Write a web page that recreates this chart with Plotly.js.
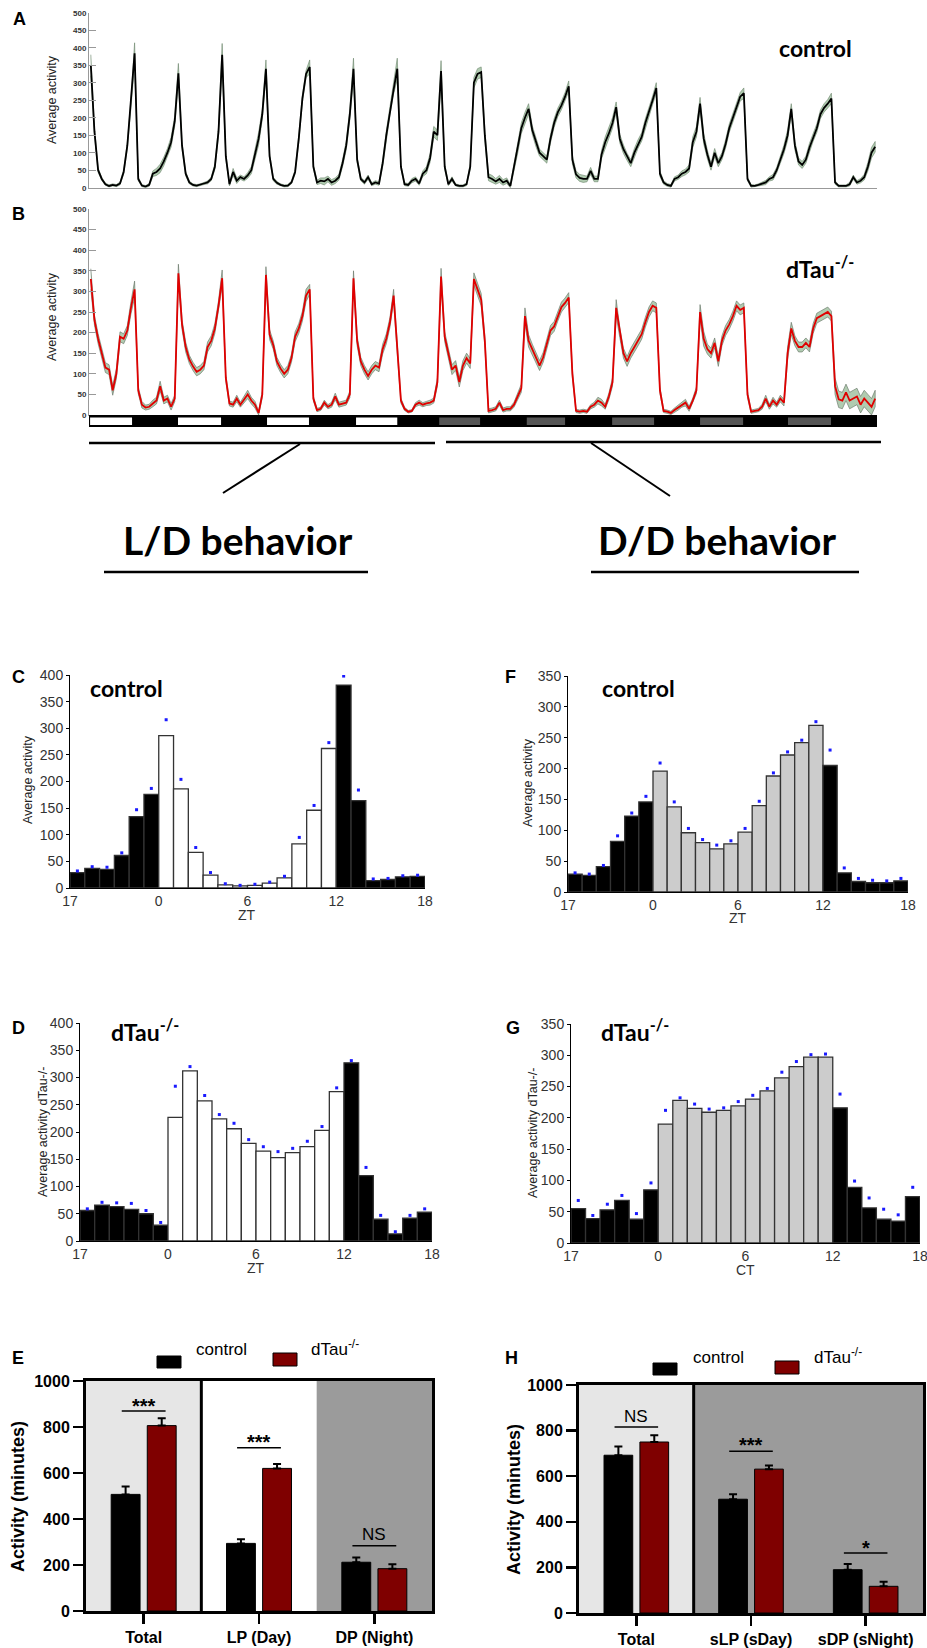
<!DOCTYPE html>
<html><head><meta charset="utf-8">
<script src="https://cdn.plot.ly/plotly-3.0.1.min.js"></script>
<style>html,body{margin:0;padding:0;background:#fff;}#chart{width:927px;height:1648px;}</style>
</head><body><div id="chart"></div>
<script>
// ---------- Panel A / B : hourly activity (bin centres = hour + 0.5) ----------
const controlLD = [
350,160,50,25,10,5,8,6,12,45,120,240,384,25,6,3,8,40,45,55,75,100,130,190,
327,120,40,15,8,6,8,12,15,25,60,160,380,90,10,45,20,30,25,35,50,95,140,210,
340,90,25,14,8,5,6,15,45,140,255,325,345,60,15,20,18,25,15,20,30,70,120,210,
340,80,25,15,30,10,15,12,70,150,220,280,340,60,10,8,20,25,12,40,50,85,160,150];
const controlDD = [
333,60,10,25,8,5,5,10,60,300,325,330,150,30,25,18,25,15,20,5,60,110,170,200,
225,165,130,100,90,80,140,185,215,235,260,290,80,38,28,25,25,48,25,25,95,130,155,185,
230,140,110,88,70,100,125,145,185,215,250,285,40,15,8,5,25,30,40,45,55,130,160,240,
140,95,60,100,70,90,125,170,200,230,260,270,25,5,5,8,12,15,25,30,50,80,110,150,
225,120,75,65,80,115,145,170,210,228,240,255,15,5,5,5,10,30,15,20,30,60,100,117];
const controlSemLD = [
30,10,6,4,3,3,3,3,4,6,8,12,30,5,3,3,4,8,10,12,12,12,14,14,
28,10,6,4,3,3,3,3,4,5,8,12,32,8,5,10,8,6,6,8,10,14,18,14,
25,8,5,4,3,3,3,4,6,10,10,10,20,6,6,8,10,8,8,8,8,10,12,15,
30,8,5,5,6,4,5,5,10,12,12,12,30,6,4,4,6,6,5,8,10,12,15,15];
const controlSemDD = [
30,8,4,6,3,3,3,4,8,15,15,15,15,10,10,8,10,8,8,5,10,12,15,15,
15,12,12,10,10,10,12,12,12,12,12,15,12,10,10,10,8,10,8,8,12,15,15,15,
15,12,12,10,10,12,12,12,12,12,12,15,8,5,4,4,6,6,8,8,10,15,15,18,
15,12,10,12,10,10,12,12,12,12,12,15,5,4,3,3,5,6,6,8,8,10,12,15,
15,12,10,10,10,12,12,12,12,12,12,15,5,3,3,3,5,6,5,6,8,12,15,15];
const tauLD = [
330,230,185,150,115,110,60,100,190,185,205,260,305,60,25,18,20,28,35,70,35,40,20,40,
344,220,165,135,118,105,110,120,165,180,210,265,332,90,28,25,40,25,38,50,35,25,5,50,
340,195,170,130,113,100,110,138,190,210,240,290,305,40,12,15,30,20,25,45,25,28,30,50,
332,180,130,110,95,110,120,115,160,185,225,290,160,35,15,8,10,25,30,25,28,30,35,80];
const tauDD = [
336,190,150,110,120,80,120,138,125,330,305,280,180,10,12,15,30,12,15,15,25,45,65,240,
180,160,140,120,140,175,205,215,240,262,272,285,100,10,8,10,8,20,25,35,30,20,45,80,
260,200,150,130,150,165,180,196,225,250,265,260,60,10,8,5,12,18,25,30,15,35,60,250,
185,160,150,175,130,180,205,220,240,265,255,260,50,8,10,12,20,40,20,35,25,40,30,150,
210,180,165,165,175,165,210,235,240,245,250,240,70,38,35,55,35,40,45,25,40,30,20,40];
const tauSemLD = [
25,12,12,12,12,12,12,12,12,12,12,15,20,8,8,6,6,8,8,12,8,8,8,8,
22,12,12,10,10,10,10,10,12,12,12,12,20,8,6,6,8,6,8,10,8,8,5,8,
20,12,10,10,10,10,10,10,12,12,12,15,12,6,4,4,6,5,6,8,6,6,6,8,
18,12,10,10,10,10,10,10,12,12,12,15,12,6,4,3,3,5,6,5,5,6,6,10];
const tauSemDD = [
20,12,12,12,12,12,12,12,12,15,15,15,12,5,5,5,6,5,5,5,6,8,10,20,
15,12,12,12,12,12,12,12,12,12,12,12,10,4,4,4,4,5,6,8,8,6,8,10,
20,12,12,12,12,12,12,12,12,12,12,12,8,4,4,4,5,6,6,8,6,6,8,18,
18,12,12,12,12,12,12,12,12,12,12,12,8,4,4,4,6,8,6,8,6,8,8,15,
15,12,12,12,12,12,12,12,12,12,12,12,20,20,20,20,20,20,20,20,20,20,20,20];
// light phase (white) and subjective day (grey) intervals on the LD bar, hours
const lightStart = [0.3, 24.4, 48.8, 73.2];
const lightEnd   = [11.8, 36.2, 60.3, 84.5];
const sdayStart  = [96, 120, 143.4, 167.5, 191.6];
const sdayEnd    = [107.2, 130.5, 154.9, 179.3, 203.4];

// ---------- Panels C D F G : 1-h bins from ZT18 (label 17) to ZT18 ----------
const binTickLabels = ['17','0','6','12','18'];
const meanC = [29,37,35,61,134,176,286,186,67,24,6,4,5,9,19,83,146,262,381,164,14,16,21,22];
const semC  = [3,3,4,5,13,11,30,18,9,5,2,1,2,2,3,12,9,11,17,20,3,2,2,2];
const meanF = [29,27,41,82,123,146,196,138,96,80,70,78,97,140,188,222,242,270,205,31,17,15,15,18];
const semF  = [2,2,2,9,5,9,13,8,7,5,6,5,6,7,5,5,4,6,25,8,5,4,3,4];
const meanD = [56,66,63,58,50,29,227,312,257,224,206,179,165,153,162,173,203,274,327,120,40,13,42,53];
const semD  = [3,5,7,11,6,5,57,8,10,8,10,7,8,11,8,10,7,7,4,15,7,4,5,6];
const meanG = [55,39,53,68,38,85,190,228,215,209,212,219,230,243,264,282,297,297,216,89,56,38,35,74];
const semG  = [13,5,9,8,9,11,22,4,7,5,4,7,6,4,9,8,4,5,22,10,16,16,10,15];

// ---------- Panels E H ----------
const catsE = ['Total','LP (Day)','DP (Night)'];
const eControl = [507,294,212], eControlErr = [34,18,21];
const eTau = [806,620,184], eTauErr = [32,19,19];
const catsH = ['Total','sLP (sDay)','sDP (sNight)'];
const hControl = [692,499,190], hControlErr = [38,22,25];
const hTau = [750,631,117], hTauErr = [30,16,20];

// ================= build =================
const W = 927, H = 1648;
const fx = p => p / W, fy = p => 1 - p / H;
const domX = (a, b) => [fx(a), fx(b)];
const domY = (top, bot) => [fy(bot), fy(top)];
const ARIAL = 'Liberation Sans, Arial, Helvetica, sans-serif';
const CAL = 'Lato, Carlito, sans-serif';

const ctrl = controlLD.concat(controlDD), ctrlSem = controlSemLD.concat(controlSemDD);
const tau = tauLD.concat(tauDD), tauSem = tauSemLD.concat(tauSemDD);
const hours = ctrl.map((_, i) => i + 0.5);
const binCenters = meanC.map((_, i) => i - 5.5);

const traces = [];
function band(vals, sems, xa, ya, fill, edge) {
  const up = vals.map((v, i) => v + sems[i]);
  const lo = vals.map((v, i) => Math.max(0, v - sems[i]));
  traces.push({type:'scatter', mode:'lines', x: hours.concat(hours.slice().reverse()),
    y: up.concat(lo.slice().reverse()), fill:'toself', fillcolor: fill,
    line:{color: edge, width: 0.7}, xaxis: xa, yaxis: ya, hoverinfo:'skip'});
}
function line(vals, xa, ya, color) {
  traces.push({type:'scatter', mode:'lines', x: hours, y: vals, line:{color, width:1.8},
    xaxis: xa, yaxis: ya, hoverinfo:'skip'});
}
band(ctrl, ctrlSem, 'x', 'y', 'rgba(150,185,150,0.75)', 'rgba(110,135,110,0.9)');
line(ctrl, 'x', 'y', '#000');
band(tau, tauSem, 'x2', 'y2', 'rgba(150,185,150,0.75)', 'rgba(100,115,100,0.9)');
line(tau, 'x2', 'y2', '#e00000');

function hist(means, sems, dayColor, xa, ya) {
  traces.push({type:'bar', x: binCenters, y: means, width: 1,
    marker:{color: binCenters.map(c => (c > 0 && c < 12) ? dayColor : '#000'),
      line:{color:'#333', width:1.3}}, xaxis: xa, yaxis: ya, hoverinfo:'skip'});
  traces.push({type:'scatter', mode:'markers', x: binCenters, y: means.map((m, i) => m + sems[i]),
    marker:{color:'#1a1aff', size:3, symbol:'square'}, xaxis: xa, yaxis: ya, hoverinfo:'skip'});
}
hist(meanC, semC, '#fff', 'x3', 'y3');
hist(meanF, semF, '#cccccc', 'x4', 'y4');
hist(meanD, semD, '#fff', 'x5', 'y5');
hist(meanG, semG, '#cccccc', 'x6', 'y6');

function groupBars(cats, c, ce, t, te, xa, ya) {
  [[c, ce, '#000'], [t, te, '#7f0000']].forEach(([v, e, col]) => {
    traces.push({type:'bar', x: cats, y: v,
      error_y:{type:'data', array: e, arrayminus: e.map(() => 0), symmetric:false,
        color:'#000', thickness:2, width:4},
      marker:{color: col, line:{color:'#000', width:1}}, xaxis: xa, yaxis: ya, hoverinfo:'skip'});
  });
}
groupBars(catsE, eControl, eControlErr, eTau, eTauErr, 'x7', 'y7');
groupBars(catsH, hControl, hControlErr, hTau, hTauErr, 'x8', 'y8');

const layout = {width: W, height: H, margin:{l:0, r:0, t:0, b:0}, showlegend:false,
  paper_bgcolor:'#fff', plot_bgcolor:'rgba(0,0,0,0)', barmode:'group', bargap:0.374, bargroupgap:0.2,
  shapes: [], annotations: []};

function actAxes(n, ydom) {
  layout['xaxis' + (n === 1 ? '' : n)] = {domain: domX(89, 877), range:[0, 216], showline:true,
    linecolor:'#999', linewidth:1, showticklabels:false, ticks:'', showgrid:false, zeroline:false,
    anchor: 'y' + (n === 1 ? '' : n)};
  layout['yaxis' + (n === 1 ? '' : n)] = {domain: ydom, range:[0, 500], dtick:50, showline:true,
    linecolor:'#999', linewidth:1, ticks:'inside', ticklen:7, tickcolor:'#999', showgrid:false,
    zeroline:false, tickfont:{family: ARIAL, size:8, color:'#333', weight:'bold'},
    anchor: 'x' + (n === 1 ? '' : n)};
}
actAxes(1, domY(12.7, 187.7));
actAxes(2, domY(209, 415));

function histAxes(n, xd, yd, ymax) {
  layout['xaxis' + n] = {domain: xd, range:[-6, 18], tickvals:[-6, 0, 6, 12, 18], ticktext: binTickLabels,
    showline:true, linecolor:'#000', linewidth:1, ticks:'', ticklabeloverflow:'allow',
    tickfont:{family: ARIAL, size:14, color:'#333'}, showgrid:false, zeroline:false, anchor:'y' + n};
  layout['yaxis' + n] = {domain: yd, range:[0, ymax], dtick:50, showline:true, linecolor:'#000',
    linewidth:1, ticks:'outside', ticklen:3, tickcolor:'#000', ticklabeloverflow:'allow',
    tickfont:{family: ARIAL, size:14, color:'#333'}, showgrid:false, zeroline:false, anchor:'x' + n};
}
histAxes(3, domX(70, 425), domY(675, 888), 400);
histAxes(4, domX(568, 908), domY(676, 892), 350);
histAxes(5, domX(80, 432), domY(1023, 1241), 400);
histAxes(6, domX(571, 920), domY(1024, 1243), 350);

function barAxes(n, xd, yd) {
  layout['xaxis' + n] = {domain: xd, type:'category', range:[-0.5, 2.5], showline:true, mirror:true,
    linecolor:'#000', linewidth:3, ticks:'outside', ticklen:10, tickwidth:2.5, tickcolor:'#000',
    tickfont:{family: ARIAL, size:16, color:'#000', weight:'bold'}, showgrid:false, zeroline:false, anchor:'y' + n};
  layout['yaxis' + n] = {domain: yd, range:[0, 1000], dtick:200, showline:true, mirror:true,
    linecolor:'#000', linewidth:3, ticks:'outside', ticklen:10, tickwidth:2.5, tickcolor:'#000',
    tickfont:{family: ARIAL, size:16, color:'#000', weight:'bold'}, showgrid:false, zeroline:false, anchor:'x' + n};
}
barAxes(7, domX(86, 432), domY(1381, 1611));
barAxes(8, domX(579, 923), domY(1385, 1613));

const S = layout.shapes, A = layout.annotations;
// LD bar under panel B
S.push({type:'rect', xref:'x2', yref:'paper', x0:0, x1:216, y0:fy(427), y1:fy(415), fillcolor:'#000', line:{width:0}});
lightStart.forEach((s, i) => S.push({type:'rect', xref:'x2', yref:'paper', x0:s, x1:lightEnd[i],
  y0:fy(425), y1:fy(417.5), fillcolor:'#fff', line:{width:0}}));
sdayStart.forEach((s, i) => S.push({type:'rect', xref:'x2', yref:'paper', x0:s, x1:sdayEnd[i],
  y0:fy(425), y1:fy(417.5), fillcolor:'#555', line:{width:0}}));
// bracket lines
function pl(x0, y0, x1, y1, w) {
  S.push({type:'line', xref:'paper', yref:'paper', x0:fx(x0), y0:fy(y0), x1:fx(x1), y1:fy(y1), line:{color:'#000', width:w}});
}
pl(89, 443, 435, 443, 2.5); pl(446, 442, 881, 442, 2.5);
pl(300, 444, 223, 493, 2); pl(591, 443, 670, 496, 2);
pl(104, 572, 368, 572, 2.5); pl(591, 572, 859, 572, 2.5);

// E / H backgrounds, dividers, significance
function region(xa, ya, x0, x1, col) {
  S.push({type:'rect', xref:xa, yref:ya, x0, x1, y0:0, y1:1000, fillcolor:col, line:{width:0}, layer:'below'});
}
region('x7', 'y7', -0.5, 0.5, '#e6e6e6'); region('x7', 'y7', 1.5, 2.5, '#9b9b9b');
region('x8', 'y8', -0.5, 0.5, '#e6e6e6'); region('x8', 'y8', 0.5, 2.5, '#9b9b9b');
['7', '8'].forEach(n => S.push({type:'line', xref:'x' + n, yref:'y' + n, x0:0.5, x1:0.5, y0:0, y1:1000, line:{color:'#000', width:3}}));
function sig(n, c, y, text, ty, bold) {
  S.push({type:'line', xref:'x' + n, yref:'y' + n, x0:c - 0.19, x1:c + 0.19, y0:y, y1:y, line:{color:'#000', width:1.5}});
  A.push({text, xref:'x' + n, yref:'y' + n, x:c, y:ty, showarrow:false, yshift: bold ? -5 : 0,
    font:{family: ARIAL, size: bold ? 20 : 17, color:'#000', weight: bold ? 'bold' : 'normal'}});
}
sig('7', 0, 870, '***', 915, true); sig('7', 1, 710, '***', 758, true); sig('7', 2, 284, 'NS', 333, false);
sig('8', 0, 816, 'NS', 861, false); sig('8', 1, 709, '***', 759, true); sig('8', 2, 263, '*', 309, true);

// legends for E and H
function legend(xb, yb, xr, yr, xc, xt, yt) {
  S.push({type:'rect', xref:'paper', yref:'paper', x0:fx(xb), x1:fx(xb + 24), y0:fy(yb + 12), y1:fy(yb), fillcolor:'#000', line:{color:'#000', width:1}});
  S.push({type:'rect', xref:'paper', yref:'paper', x0:fx(xr), x1:fx(xr + 24), y0:fy(yr + 13), y1:fy(yr), fillcolor:'#7f0000', line:{color:'#000', width:1}});
  A.push({text:'control', xref:'paper', yref:'paper', x:fx(xc), y:fy(yt), xanchor:'left', showarrow:false, font:{family:ARIAL, size:17, color:'#000'}});
  A.push({text:'dTau<sup>-/-</sup>', xref:'paper', yref:'paper', x:fx(xt), y:fy(yt), xanchor:'left', showarrow:false, font:{family:ARIAL, size:17, color:'#000'}});
}
legend(157, 1356, 273, 1353, 194, 309, 1361);
legend(653, 1363, 775, 1361, 691, 812, 1369);

// text annotations
function txt(text, x, y, size, opts) {
  A.push(Object.assign({text, xref:'paper', yref:'paper', x:fx(x), y:fy(y), showarrow:false,
    xanchor:'center', yanchor:'middle', font:{family: ARIAL, size, color:'#000'}}, opts || {}));
}
function btxt(text, x, y, size, fam) { txt(text, x, y, size, {font:{family: fam || ARIAL, size, color:'#000', weight:'bold'}}); }
btxt('A', 19, 19, 18); btxt('B', 18, 214, 18); btxt('C', 18, 677, 18); btxt('F', 510, 677, 18);
btxt('D', 18, 1028, 18); btxt('G', 513, 1028, 18); btxt('E', 18, 1358, 18); btxt('H', 512, 1358, 18);
btxt('control', 815, 48, 23, CAL); btxt('dTau<sup>-/-</sup>', 820, 267, 23, CAL);
btxt('control', 127, 688, 23, CAL); btxt('control', 638, 688, 23, CAL);
btxt('dTau<sup>-/-</sup>', 145, 1030, 23, CAL); btxt('dTau<sup>-/-</sup>', 635, 1030, 23, CAL);
btxt('L/D behavior', 238, 540, 39, CAL); btxt('D/D behavior', 717, 540, 39, CAL);
function ytitle(text, x, y, size, w) {
  txt(text, x, y, size, {textangle:-90, font:{family: ARIAL, size, color: w ? '#000' : '#222', weight: w ? 'bold' : 'normal'}});
}
ytitle('Average activity', 52, 100, 12.5); ytitle('Average activity', 52, 317, 12.5);
ytitle('Average activity', 28, 780, 12.5); ytitle('Average activity', 528, 783, 12.5);
ytitle('Average activity dTau-/-', 43, 1132, 12.5); ytitle('Average activity dTau-/-', 533, 1133, 12.5);
ytitle('Activity (minutes)', 18, 1497, 18, true); ytitle('Activity (minutes)', 514, 1500, 18, true);
const xtf = {font:{family:ARIAL, size:14, color:'#333'}};
txt('ZT', 247, 915, 14, xtf);
txt('ZT', 738, 918, 14, xtf);
txt('ZT', 256, 1268, 14, xtf);
txt('CT', 745, 1270, 14, xtf);

Plotly.newPlot('chart', traces, layout, {staticPlot:true, displayModeBar:false});
</script></body></html>
